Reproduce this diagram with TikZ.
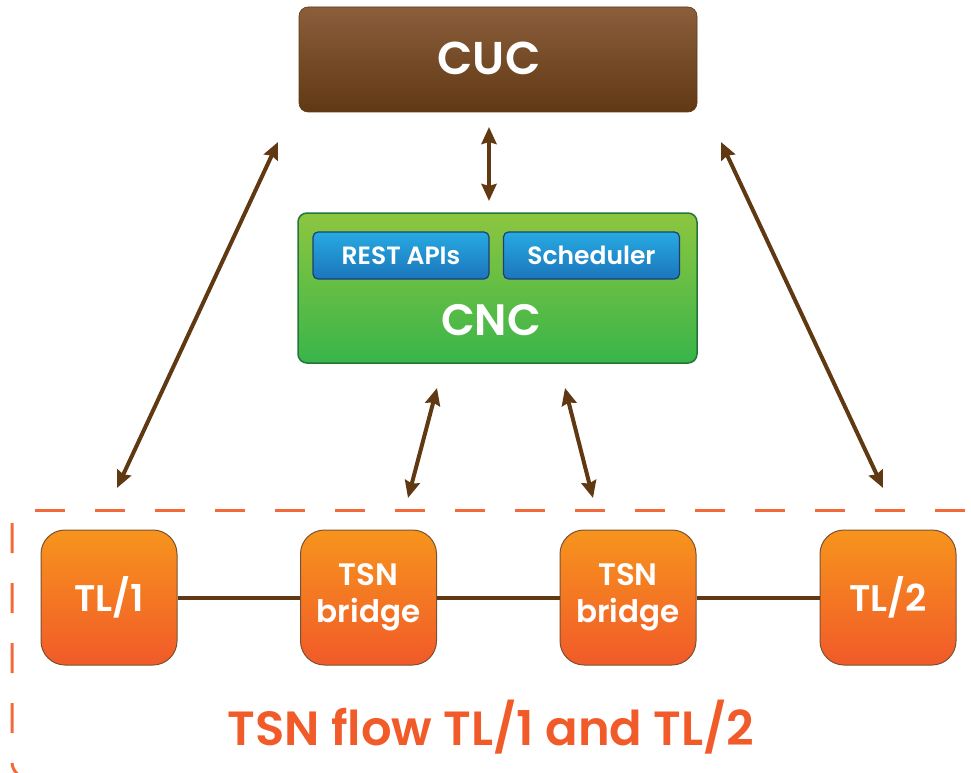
\documentclass[tikz,border=0pt]{standalone}
\usepackage{fontspec}
\setmainfont{Poppins}[BoldFont={Poppins SemiBold}]
\usetikzlibrary{arrows.meta}
\definecolor{arrowbrown}{HTML}{603913}
\definecolor{cuctop}{HTML}{8B5E3C}
\definecolor{cucbot}{HTML}{603913}
\definecolor{cnctop}{HTML}{8DC63F}
\definecolor{cncbot}{HTML}{39B54A}
\definecolor{cncedge}{HTML}{23753A}
\definecolor{bluetop}{HTML}{27AAE1}
\definecolor{bluebot}{HTML}{1C75BC}
\definecolor{blueedge}{HTML}{1D3F78}
\definecolor{orangetop}{HTML}{F7941D}
\definecolor{orangebot}{HTML}{F15A29}
\definecolor{orangeedge}{HTML}{7B5230}
\definecolor{dashorange}{HTML}{F26A3A}
\tikzset{
  box/.style={rounded corners=9pt, inner sep=0pt, text=white, font=\bfseries},
  cucbox/.style={box, top color=cuctop, bottom color=cucbot, draw=cucbot, line width=0.6pt,
    minimum width=398pt, minimum height=105pt},
  cncbox/.style={box, top color=cnctop, bottom color=cncbot, draw=cncedge, line width=1.5pt,
    minimum width=399pt, minimum height=150pt},
  subbox/.style={box, rounded corners=5pt, top color=bluetop, bottom color=bluebot, draw=blueedge,
    line width=1.2pt, minimum width=176pt, minimum height=47pt, font=\bfseries\fontsize{25}{27}\selectfont},
  devbox/.style={box, rounded corners=24pt, top color=orangetop, bottom color=orangebot, draw=orangeedge,
    line width=1pt, minimum width=136pt, minimum height=135pt, align=center},
  link/.style={arrowbrown, line width=4pt, {Stealth[length=17pt,width=15pt,inset=2pt]}-{Stealth[length=17pt,width=15pt,inset=2pt]}},
  wire/.style={arrowbrown, line width=4pt},
  frame/.style={dashorange, line width=3pt, dash pattern=on 30pt off 30pt},
}
\begin{document}
\begin{tikzpicture}[x=1pt,y=-1pt]
\useasboundingbox (0,0) rectangle (971,773);

% controllers
\node[cucbox] (cuc) at (498,59.5) {};
\node[text=white, font=\bfseries\fontsize{46}{50}\selectfont] (cuclbl) at (489,58) {CUC};
\node[cncbox] (cnc) at (497.5,288) {};
\node[subbox] (rest) at (401,255.5) {REST APIs};
\node[subbox] (sched) at (591.5,255.5) {Scheduler};
\node[text=white, font=\bfseries\fontsize{44}{48}\selectfont] (cnclbl) at (491,320) {CNC};

% end stations and bridges
\node[devbox, font=\bfseries\fontsize{37}{40}\selectfont] (tl1) at (109,597.5) {TL/1};
\node[devbox, font=\bfseries\fontsize{31}{34}\selectfont] (br1) at (368.5,597.5) {TSN\\[3pt]bridge};
\node[devbox, font=\bfseries\fontsize{31}{34}\selectfont] (br2) at (628,597.5) {TSN\\[3pt]bridge};
\node[devbox, font=\bfseries\fontsize{37}{40}\selectfont] (tl2) at (888,597.5) {TL/2};

\draw[wire] (tl1.east) -- (br1.west);
\draw[wire] (br1.east) -- (br2.west);
\draw[wire] (br2.east) -- (tl2.west);

% arrow end points
\coordinate (cucS) at (489,127);
\coordinate (cncN) at (489,201);
\coordinate (cucSW) at (278,142);
\coordinate (tl1N) at (117,488);
\coordinate (cucSE) at (721,142);
\coordinate (tl2N) at (883,488);
\coordinate (cncSW) at (437,388);
\coordinate (br1N) at (408,498);
\coordinate (cncSE) at (565,388);
\coordinate (br2N) at (593,498);

\draw[link] (cucS) -- (cncN);
\draw[link] (cucSW) -- (tl1N);
\draw[link] (cucSE) -- (tl2N);
\draw[link] (cncSW) -- (br1N);
\draw[link] (cncSE) -- (br2N);

% TSN domain frame
\draw[frame] (35,510) -- (1000,510);
\draw[frame, rounded corners=16pt] (12,523) -- (12,778) -- (80,778);
\node[text=orangebot, font=\bfseries\fontsize{48}{52}\selectfont, anchor=base] (domain) at (491,745) {TSN flow TL/1 and TL/2};
\end{tikzpicture}
\end{document}
